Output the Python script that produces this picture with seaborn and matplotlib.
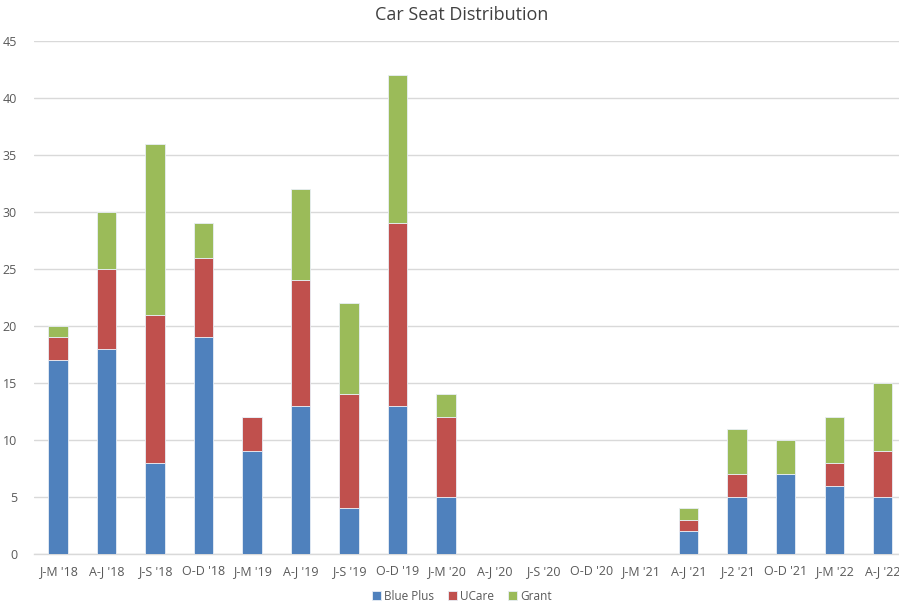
import matplotlib
matplotlib.use("Agg")
import matplotlib.pyplot as plt
import seaborn as sns
import numpy as np
import pandas as pd

categories = ["J-M '18", "A-J '18", "J-S '18", "O-D '18", "J-M '19", "A-J '19", "J-S '19",
              "O-D '19", "J-M '20", "A-J '20", "J-S '20", "O-D '20", "J-M '21", "A-J '21",
              "J-2 '21", "O-D '21", "J-M '22", "A-J '22"]
blue_plus = [17, 18, 8, 19, 9, 13, 4, 13, 5, 0, 0, 0, 0, 2, 5, 7, 6, 5]
ucare =     [2, 7, 13, 7, 3, 11, 10, 16, 7, 0, 0, 0, 0, 1, 2, 0, 2, 4]
grant =     [1, 5, 15, 3, 0, 8, 8, 13, 2, 0, 0, 0, 0, 1, 4, 3, 4, 6]

series = [("Blue Plus", blue_plus, "#4F81BD"),
          ("UCare", ucare, "#C0504D"),
          ("Grant", grant, "#9BBB59")]

sns.set_style("white")
plt.rcParams['font.family'] = ['Open Sans', 'DejaVu Sans']

W, H = 899, 605
fig = plt.figure(figsize=(W / 100, H / 100), dpi=100)
left = 33.75 / W
right = 907.0 / W
top = 1 - 41 / H
bottom = 1 - 554 / H
ax = fig.add_axes([left, bottom, right - left, top - bottom])

base = np.zeros(len(categories))
for name, vals, color in series:
    df = pd.DataFrame({"cat": categories, "val": vals})
    sns.barplot(data=df, x="cat", y="val", color=color, saturation=1, width=0.4,
                bottom=base, ax=ax, label=name, edgecolor="#e8eef6", linewidth=0.6,
                errorbar=None, zorder=3)
    base = base + np.array(vals)

if ax.get_legend() is not None:
    ax.get_legend().remove()

ax.set_xlim(-0.5, len(categories) - 0.5)
ax.set_ylim(0, 45)
ax.set_yticks(range(0, 46, 5))
ax.yaxis.grid(True, color="#d9d9d9", linewidth=1, zorder=0)
ax.set_axisbelow(True)
for s in ["top", "right", "left"]:
    ax.spines[s].set_visible(False)
ax.spines["bottom"].set_color("#d9d9d9")
ax.spines["bottom"].set_linewidth(1)
ax.tick_params(axis="both", length=0, labelsize=9, colors="#595959", pad=8)
ax.tick_params(axis="y", pad=12)
ax.set_xlabel("")
ax.set_ylabel("")

fig.text(462 / W, 1 - 15 / H, "Car Seat Distribution", ha="center", va="center",
         fontsize=13, color="#404040")

handles, labels = ax.get_legend_handles_labels()
fig.legend(handles, labels, loc="center", bbox_to_anchor=(462 / W, 1 - 596 / H),
           ncol=3, frameon=False, fontsize=8.5, handlelength=0.7, handleheight=0.7,
           handletextpad=0.3, columnspacing=1.2, labelcolor="#595959")

fig.savefig("out.png", dpi=100)
